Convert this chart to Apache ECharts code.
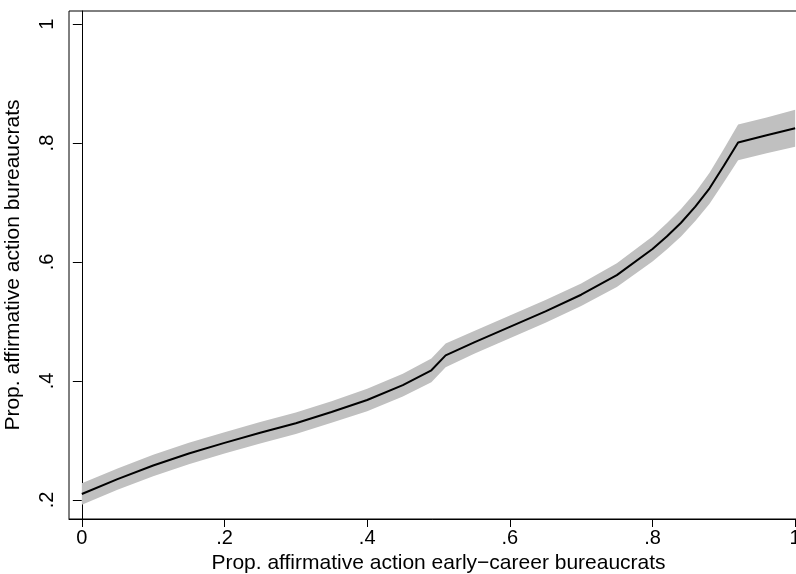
<!DOCTYPE html>
<html>
<head>
<meta charset="utf-8">
<script src="https://cdn.jsdelivr.net/npm/echarts@6/dist/echarts.min.js"></script>
<style>html,body{margin:0;padding:0;background:#fff;}#c{width:796px;height:574px;}</style>
</head>
<body>
<div id="c"></div>
<script>
const xValues = [0.00,0.05,0.10,0.15,0.20,0.25,0.30,0.35,0.40,0.45,0.49,0.51,0.55,0.60,0.65,0.70,0.75,0.80,0.82,0.84,0.86,0.88,0.90,0.92,0.96,1.00];
const fitValues = [0.210,0.235,0.258,0.278,0.296,0.313,0.329,0.348,0.368,0.393,0.418,0.443,0.465,0.491,0.517,0.545,0.578,0.622,0.643,0.666,0.693,0.724,0.762,0.801,0.813,0.825];
const halfWidth = [0.018,0.018,0.018,0.018,0.018,0.018,0.018,0.018,0.019,0.019,0.020,0.020,0.019,0.019,0.019,0.019,0.020,0.021,0.022,0.023,0.024,0.026,0.028,0.030,0.030,0.031];
const xTicks = [0, 0.2, 0.4, 0.6, 0.8, 1];
const yTicks = [0.2, 0.4, 0.6, 0.8, 1];
const fmt = v => { const s = String(Math.round(v*10)/10); return s.startsWith('0.') ? s.slice(1) : s; };

const bandData = xValues.map((x,i) => [x, fitValues[i]-halfWidth[i], fitValues[i]+halfWidth[i]]);
const fit = xValues.map((x,i) => [x, fitValues[i]]);

const font = 'Liberation Sans, Arial, Helvetica, sans-serif';
const chart = echarts.init(document.getElementById('c'));
chart.setOption({
  animation: false,
  backgroundColor: '#fff',
  grid: { left: 69, top: 11, width: 739, height: 508, show: true, borderColor: '#000', borderWidth: 1, backgroundColor: '#fff', outerBoundsMode: 'none', containLabel: false },
  xAxis: {
    type: 'value', min: -0.018, max: 1.018,
    name: 'Prop. affirmative action early\u2212career bureaucrats',
    nameLocation: 'middle', nameGap: 33,
    nameTextStyle: { fontFamily: font, fontSize: 21, color: '#000' },
    axisLine: { show: true, lineStyle: { color: '#000', width: 1 } },
    axisTick: { show: true, length: 8, lineStyle: { color: '#000' }, customValues: xTicks },
    axisLabel: { fontFamily: font, fontSize: 20, color: '#000', margin: 9, customValues: xTicks, formatter: fmt, showMaxLabel: true },
    splitLine: { show: false }
  },
  yAxis: {
    type: 'value', min: 0.168, max: 1.022,
    name: 'Prop. affirmative action bureaucrats',
    nameLocation: 'middle', nameGap: 45, nameRotate: 90,
    nameTextStyle: { fontFamily: font, fontSize: 21, color: '#000' },
    axisLine: { show: true, lineStyle: { color: '#000', width: 1 } },
    axisTick: { show: true, length: 9, lineStyle: { color: '#000' }, customValues: yTicks },
    axisLabel: { fontFamily: font, fontSize: 20, color: '#000', margin: 12, rotate: 90, customValues: yTicks, formatter: fmt },
    splitLine: { show: false }
  },
  series: [
    {
      type: 'custom', data: bandData, silent: true, z: 1,
      encode: { x: 0, y: [1, 2] },
      renderItem: function (params, api) {
        if (params.dataIndex !== 0) return null;
        const pts = [];
        for (let i = 0; i < bandData.length; i++) pts.push(api.coord([bandData[i][0], bandData[i][2]]));
        for (let i = bandData.length - 1; i >= 0; i--) pts.push(api.coord([bandData[i][0], bandData[i][1]]));
        return { type: 'polygon', shape: { points: pts }, style: { fill: '#c0c0c0', stroke: null } };
      }
    },
    { type: 'line', data: fit, symbol: 'none', lineStyle: { color: '#000', width: 2 }, z: 5 }
  ]
});
</script>
</body>
</html>
